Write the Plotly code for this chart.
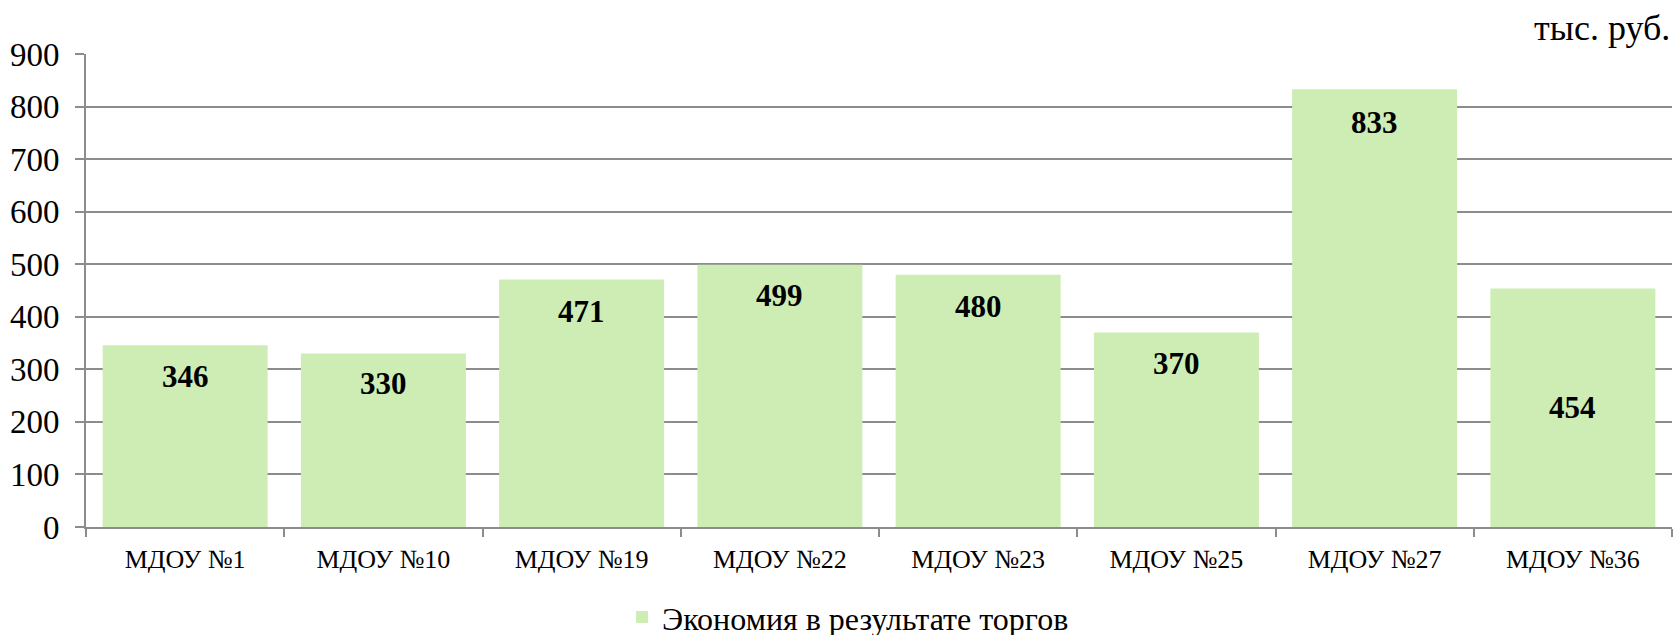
import plotly.graph_objects as go

# Savings per kindergarten (thousand rubles)
categories = ["МДОУ №1", "МДОУ №10", "МДОУ №19", "МДОУ №22",
              "МДОУ №23", "МДОУ №25", "МДОУ №27", "МДОУ №36"]
savings = [346, 330, 471, 499, 480, 370, 833, 454]
series_name = "Экономия в результате торгов"
unit_label = "тыс. руб."
y_ticks = [0, 100, 200, 300, 400, 500, 600, 700, 800, 900]

# vertical offset (px) of each value label below the bar top
label_shift = [31, 30, 32, 31, 32, 31, 33, 119]

FONT = "Liberation Serif, Times New Roman, serif"
GRID = "#8c8c8c"
BAR = "#cdedb4"

fig = go.Figure()
fig.add_trace(go.Bar(
    x=categories,
    y=savings,
    name=series_name,
    marker=dict(color=BAR, line=dict(width=0)),
    showlegend=True,
))

for cat, val, shift in zip(categories, savings, label_shift):
    fig.add_annotation(
        x=cat, y=val, xref="x", yref="y",
        text=f"<b>{val}</b>", showarrow=False,
        yshift=-shift, yanchor="middle",
        font=dict(family=FONT, size=31, color="black"),
    )

fig.add_annotation(
    x=1.0, y=1.0, xref="paper", yref="paper",
    xanchor="right", yanchor="middle", yshift=26,
    text=unit_label, showarrow=False,
    font=dict(family=FONT, size=36, color="black"),
)

fig.update_layout(
    width=1675, height=635,
    margin=dict(l=86, r=3, t=54, b=108, autoexpand=False),
    paper_bgcolor="white", plot_bgcolor="white",
    font=dict(family=FONT, color="black"),
    bargap=0.168,
    legend=dict(
        orientation="h", x=0.338, xanchor="left",
        yref="container", y=0.028, yanchor="middle",
        font=dict(family=FONT, size=32, color="black"),
        itemwidth=30,
    ),
)

fig.update_xaxes(
    automargin=False,
    showline=True, linecolor=GRID, linewidth=2,
    ticks="outside", tickson="boundaries", ticklen=8, tickcolor=GRID, tickwidth=2,
    showgrid=False,
    tickfont=dict(family=FONT, size=26, color="black"),
    ticklabelstandoff=8,
)

fig.update_yaxes(
    automargin=False,
    range=[0, 900], tickvals=y_ticks,
    showline=True, linecolor=GRID, linewidth=2,
    showgrid=True, gridcolor=GRID, gridwidth=2,
    ticks="outside", ticklen=9, tickcolor=GRID, tickwidth=2,
    tickfont=dict(family=FONT, size=33, color="black"),
    ticklabelstandoff=9,
    zeroline=False,
)

fig.write_html("out.html")
